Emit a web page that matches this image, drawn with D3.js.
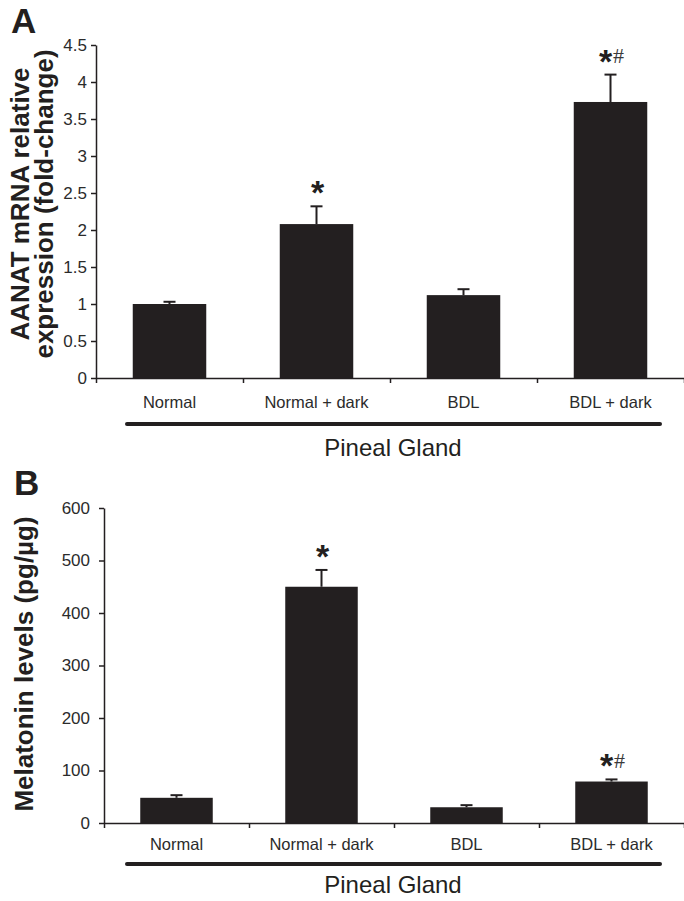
<!DOCTYPE html>
<html>
<head>
<meta charset="utf-8">
<script src="https://cdn.jsdelivr.net/npm/d3@7"></script>
<style>
  body { margin: 0; background: #fff; }
  svg { display: block; font-family: "Liberation Sans", Arial, sans-serif; }
</style>
</head>
<body>
<div id="chart"></div>
<script>
// data
var groups = ["Normal", "Normal + dark", "BDL", "BDL + dark"];

var aanatMean = [1.0, 2.08, 1.12, 3.73];
var aanatErr = [0.03, 0.24, 0.08, 0.37];
var aanatSig = ["", "*", "", "*#"];
var aanatTicks = [0, 0.5, 1, 1.5, 2, 2.5, 3, 3.5, 4, 4.5];

var melatoninMean = [48, 450, 30, 79];
var melatoninErr = [5, 32, 4, 4];
var melatoninSig = ["", "*", "", "*#"];
var melatoninTicks = [0, 100, 200, 300, 400, 500, 600];

var width = 684, height = 901;
var ink = "#231f20";

var svg = d3.select("#chart").append("svg")
  .attr("width", width)
  .attr("height", height);

// one panel = one bar chart with its own box
function drawPanel(opt) {
  var g = svg.append("g");

  var x = d3.scaleBand()
    .domain(groups)
    .range([opt.left, opt.right])
    .paddingInner(0.5)
    .paddingOuter(0.25);

  var y = d3.scaleLinear()
    .domain(opt.domain)
    .range([opt.bottom, opt.top]);

  // bars
  g.selectAll("rect.bar")
    .data(opt.mean)
    .enter().append("rect")
    .attr("class", "bar")
    .attr("x", function(d, i) { return x(groups[i]); })
    .attr("width", x.bandwidth())
    .attr("y", function(d) { return y(d); })
    .attr("height", function(d) { return y(0) - y(d); })
    .attr("fill", ink);

  // upper error bars
  var cap = 6;
  opt.mean.forEach(function(m, i) {
    var cx = x(groups[i]) + x.bandwidth() / 2;
    var top = y(m + opt.err[i]);
    g.append("line")
      .attr("x1", cx).attr("x2", cx)
      .attr("y1", y(m)).attr("y2", top)
      .attr("stroke", ink).attr("stroke-width", 2);
    g.append("line")
      .attr("x1", cx - cap).attr("x2", cx + cap)
      .attr("y1", top).attr("y2", top)
      .attr("stroke", ink).attr("stroke-width", 2);

    // significance marks: * (and # vs Normal + dark)
    if (opt.sig[i]) {
      var t = g.append("text")
        .attr("x", cx + 1)
        .attr("y", top - 2)
        .attr("text-anchor", "middle")
        .attr("fill", ink);
      t.append("tspan")
        .attr("font-size", 34)
        .attr("font-weight", "bold")
        .text("*");
      if (opt.sig[i].indexOf("#") >= 0) {
        t.append("tspan")
          .attr("font-family", "'Liberation Serif', serif")
          .attr("font-size", 22)
          .attr("fill", "#3a3a3a")
          .attr("dx", 1)
          .attr("dy", -9.5)
          .text("#");
      }
    }
  });

  // y axis
  var yAxis = d3.axisLeft(y)
    .tickValues(opt.ticks)
    .tickFormat(function(d) { return String(d); })
    .tickSize(5)
    .tickSizeOuter(0)
    .tickPadding(opt.tickPad);
  var ya = g.append("g")
    .attr("transform", "translate(" + opt.left + ",0)")
    .call(yAxis);
  ya.selectAll("path, line").attr("stroke", ink).attr("stroke-width", 1.5);
  ya.selectAll("text")
    .attr("font-size", 17)
    .attr("font-family", "'Liberation Sans', Arial, sans-serif")
    .attr("fill", "#2b2b2b");

  // x axis: ticks at the group boundaries
  var xb = d3.scaleLinear().domain([0, groups.length]).range([opt.left, opt.right]);
  var xAxis = d3.axisBottom(xb)
    .tickValues(d3.range(groups.length + 1))
    .tickFormat("")
    .tickSize(5)
    .tickSizeOuter(0);
  var xa = g.append("g")
    .attr("transform", "translate(0," + opt.bottom + ")")
    .call(xAxis);
  xa.selectAll("path, line").attr("stroke", ink).attr("stroke-width", 1.5);

  // group labels
  g.selectAll("text.cat")
    .data(groups)
    .enter().append("text")
    .attr("class", "cat")
    .attr("x", function(d) { return x(d) + x.bandwidth() / 2; })
    .attr("y", opt.catY)
    .attr("text-anchor", "middle")
    .attr("font-size", 16.5)
    .attr("fill", "#2b2b2b")
    .text(function(d) { return d; });

  // thick bracket line and tissue name
  g.append("line")
    .attr("x1", 127).attr("x2", 660)
    .attr("y1", opt.lineY).attr("y2", opt.lineY)
    .attr("stroke", ink)
    .attr("stroke-width", 4)
    .attr("stroke-linecap", "round");
  g.append("text")
    .attr("x", 393)
    .attr("y", opt.nameY)
    .attr("text-anchor", "middle")
    .attr("font-size", 24)
    .attr("fill", ink)
    .text("Pineal Gland");

  // y title, rotated
  opt.title.forEach(function(line, k) {
    g.append("text")
      .attr("transform", "translate(" + opt.titleX[k] + "," + opt.titleY + ")rotate(-90)")
      .attr("text-anchor", "middle")
      .attr("font-size", 26)
      .attr("font-weight", "bold")
      .attr("fill", ink)
      .text(line);
  });

  // panel letter
  svg.append("text")
    .attr("x", opt.letterX)
    .attr("y", opt.letterY)
    .attr("font-size", 35)
    .attr("font-weight", "bold")
    .attr("fill", ink)
    .text(opt.letter);
}

drawPanel({
  letter: "A", letterX: 11, letterY: 33,
  mean: aanatMean, err: aanatErr, sig: aanatSig,
  domain: [0, 4.5], ticks: aanatTicks,
  left: 96, right: 684, top: 45, bottom: 378,
  tickPad: 4,
  catY: 408, lineY: 424, nameY: 456,
  title: ["AANAT mRNA relative", "expression (fold-change)"],
  titleX: [29, 53], titleY: 204
});

drawPanel({
  letter: "B", letterX: 14, letterY: 495,
  mean: melatoninMean, err: melatoninErr, sig: melatoninSig,
  domain: [0, 600], ticks: melatoninTicks,
  left: 104, right: 684, top: 508, bottom: 823,
  tickPad: 9,
  catY: 850, lineY: 864, nameY: 893,
  title: ["Melatonin levels (pg/\u00b5g)"],
  titleX: [33], titleY: 664
});
</script>
</body>
</html>
